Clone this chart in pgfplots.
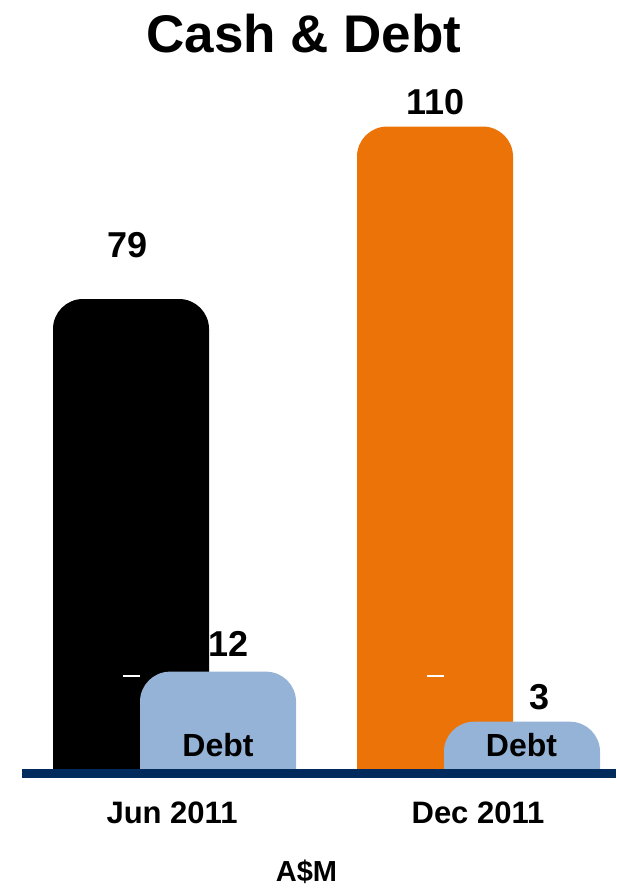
\documentclass[border=0pt]{standalone}
\usepackage{pgfplots}
\pgfplotsset{compat=1.18}
\usepackage{fontspec}
\setmainfont{Liberation Sans}
\definecolor{cashblack}{HTML}{000000}
\definecolor{cashorange}{HTML}{EC7308}
\definecolor{debtblue}{HTML}{95B3D7}
\definecolor{navy}{HTML}{002B5C}
\begin{document}
\begin{tikzpicture}
\begin{axis}[name=ax, scale only axis, width=594pt, height=773.5pt,
  xmin=-0.3586, xmax=1.5954, ymin=-6.31, ymax=132.76,
  axis y line=none, axis x line*=bottom,
  x axis line style={line width=9pt, draw=navy, -},
  xtick={0.1349,1.1414}, xticklabels={Jun 2011, Dec 2011},
  major tick length=0pt,
  xticklabel style={anchor=base, yshift=-49.5pt, font=\fontsize{31}{36}\selectfont\bfseries},
  clip mode=individual, axis on top,
  ]
% Cash bars (value in y), drawn down past the baseline and clipped
\addplot[fill=cashblack, draw=none, rounded corners=30pt] coordinates {(-0.2566,-30) (-0.2566,79) (0.2566,79) (0.2566,-30)};
\addplot[fill=cashorange, draw=none, rounded corners=30pt] coordinates {(0.7434,-30) (0.7434,110) (1.2566,110) (1.2566,-30)};
% small white dashes
\addplot[white, line width=1.5pt] coordinates {(-0.0263,11.22) (0.0296,11.22)};
\addplot[white, line width=1.5pt] coordinates {(0.9737,11.22) (1.0296,11.22)};
% Debt bars
\addplot[fill=debtblue, draw=none, rounded corners=30pt] coordinates {(0.0296,-30) (0.0296,12) (0.5428,12) (0.5428,-30)};
\addplot[fill=debtblue, draw=none, rounded corners=30pt] coordinates {(1.0296,-30) (1.0296,3) (1.5428,3) (1.5428,-30)};
% value labels
\node[anchor=base, font=\fontsize{36}{40}\selectfont\bfseries] at (axis cs:-0.013,86.55) {79};
\node[anchor=base, font=\fontsize{36}{40}\selectfont\bfseries] at (axis cs:1.0016,112.26) {110};
\node[anchor=base, font=\fontsize{36}{40}\selectfont\bfseries] at (axis cs:0.3207,14.64) {12};
\node[anchor=base, font=\fontsize{36}{40}\selectfont\bfseries] at (axis cs:1.3454,5.11) {3};
\node[anchor=base, font=\fontsize{32}{36}\selectfont\bfseries] at (axis cs:0.2862,-3.25) {Debt};
\node[anchor=base, font=\fontsize{32}{36}\selectfont\bfseries] at (axis cs:1.2845,-3.25) {Debt};
% title and unit
\node[anchor=base, font=\fontsize{53}{60}\selectfont\bfseries] at (axis cs:0.569,123.4) {Cash \& Debt};
\node[anchor=base, font=\fontsize{29}{34}\selectfont\bfseries] at (axis cs:0.5773,-25.8) {A\$M};
\end{axis}
\pgfresetboundingbox
\path[use as bounding box] ([xshift=-22pt,yshift=-115.5pt]ax.south west) rectangle (ax.north east);
\end{tikzpicture}
\end{document}
